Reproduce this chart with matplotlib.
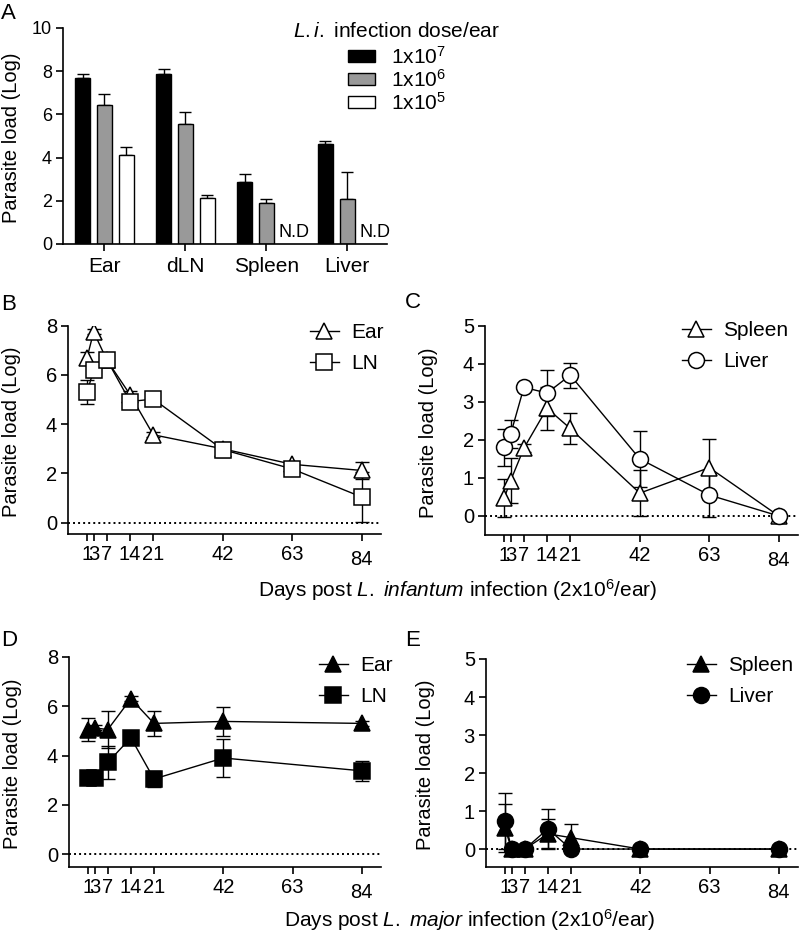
import matplotlib
matplotlib.use("Agg")
import matplotlib.pyplot as plt
import numpy as np
from matplotlib.patches import Patch

plt.rcParams['font.family'] = ['Liberation Sans', 'DejaVu Sans']
plt.rcParams['mathtext.fontset'] = 'custom'
plt.rcParams['mathtext.rm'] = 'Liberation Sans'
plt.rcParams['mathtext.it'] = 'Liberation Sans:italic'

# ---------------- Data ----------------
# Panel A
organs = ["Ear", "dLN", "Spleen", "Liver"]
dose_labels = ["1x10$^{7}$", "1x10$^{6}$", "1x10$^{5}$"]
dose_colors = ["black", "#999999", "white"]
load_1e7 = [7.7, 7.85, 2.88, 4.63]
err_1e7 = [0.17, 0.25, 0.37, 0.12]
load_1e6 = [6.45, 5.56, 1.92, 2.1]
err_1e6 = [0.5, 0.55, 0.17, 1.24]
load_1e5 = [4.13, 2.13, np.nan, np.nan]
err_1e5 = [0.37, 0.12, np.nan, np.nan]

days = [1, 3, 7, 14, 21, 42, 63, 84]
day_ticks = [1, 3, 7, 14, 21, 42, 63, 84]

# Panel B (L. infantum, Ear / LN)
B_ear = [6.7, 7.75, 6.6, 5.2, 3.57, 3.0, 2.37, 2.12]
B_ear_err = [0.25, 0.1, 0.1, 0.15, 0.1, 0.2, 0.1, 0.33]
B_ln = [5.3, 6.2, 6.62, 4.92, 5.02, 2.97, 2.18, 1.04]
B_ln_err = [0.5, 0.28, 0.15, 0.15, 0.1, 0.3, 0.15, 1.0]

# Panel C (L. infantum, Spleen / Liver)
C_spleen = [0.46, 0.93, 1.78, 2.83, 2.3, 0.6, 1.27, 0.0]
C_spleen_err = [0.5, 0.6, 0.1, 0.57, 0.4, 0.6, 0.74, 0.0]
C_liver = [1.8, 2.15, 3.38, 3.23, 3.7, 1.5, 0.55, 0.0]
C_liver_err = [0.48, 0.37, 0.05, 0.6, 0.33, 0.73, 0.58, 0.0]

# Panel D (L. major, Ear / LN)
D_ear = [5.05, 5.12, 5.05, 6.3, 5.3, 5.38, np.nan, 5.3]
D_ear_err = [0.45, 0.1, 0.75, 0.1, 0.5, 0.58, np.nan, 0.1]
D_ln = [3.08, 3.08, 3.72, 4.72, 3.05, 3.9, np.nan, 3.38]
D_ln_err = [0.1, 0.1, 0.65, 0.1, 0.33, 0.75, np.nan, 0.4]

# Panel E (L. major, Spleen / Liver)
E_spleen = [0.55, 0.0, 0.0, 0.4, 0.3, 0.0, np.nan, 0.0]
E_spleen_err = [0.63, 0.0, 0.0, 0.38, 0.36, 0.0, np.nan, 0.0]
E_liver = [0.74, 0.0, 0.0, 0.53, 0.0, 0.0, np.nan, 0.0]
E_liver_err = [0.73, 0.0, 0.0, 0.53, 0.0, 0.0, np.nan, 0.0]

# ---------------- Figure ----------------
W, H = 800, 932
fig = plt.figure(figsize=(W / 100, H / 100), dpi=100)


def ax_px(left, top, right, bottom):
    return fig.add_axes([left / W, 1 - bottom / H, (right - left) / W, (bottom - top) / H])


SP_LW = 1.2
TICK_FS = 14.5
YLAB_FS = 14.5


def style(ax):
    for s in ["top", "right"]:
        ax.spines[s].set_visible(False)
    for s in ["left", "bottom"]:
        ax.spines[s].set_linewidth(SP_LW)
    ax.tick_params(direction="out", length=5, width=SP_LW, labelsize=TICK_FS, pad=3)


# ---- Panel A ----
axA = ax_px(63, 28, 387, 244)
style(axA)
x = np.arange(len(organs))
bw = 0.185
step = 0.27
series = [(load_1e7, err_1e7), (load_1e6, err_1e6), (load_1e5, err_1e5)]
for i, ((vals, errs), col, lab) in enumerate(zip(series, dose_colors, dose_labels)):
    xs = x + (i - 1) * step
    axA.bar(xs, vals, width=bw, color=col, edgecolor="black", linewidth=1.0, label=lab, zorder=2)
    axA.errorbar(xs, vals, yerr=[np.zeros(len(vals)), errs], fmt="none", ecolor="black",
                 elinewidth=1.0, capsize=4.5, capthick=1.0, zorder=1)
for j, v in enumerate(load_1e5):
    if np.isnan(v):
        axA.text(x[j] + step + 0.07, 0.15, "N.D", ha="center", va="bottom", fontsize=13)
axA.set_xlim(-0.512, 3.49)
axA.set_ylim(0, 10)
axA.set_yticks([0, 2, 4, 6, 8, 10])
axA.set_xticks(x)
axA.set_xticklabels(organs)
axA.tick_params(axis="y", labelsize=13)
axA.tick_params(axis="x", labelsize=15, pad=4)
axA.set_ylabel("Parasite load (Log)", fontsize=YLAB_FS)
axA.yaxis.set_label_coords(-0.13, 0.49)
handles = [Patch(facecolor=c, edgecolor="black", linewidth=1.0) for c in dose_colors]
legA = axA.legend(handles, dose_labels, title=r"$\it{L.i.}$ infection dose/ear",
                  loc="upper left", bbox_to_anchor=(283 / W, 1 - 12 / H),
                  bbox_transform=fig.transFigure, frameon=False, fontsize=15,
                  title_fontsize=15, handlelength=1.3, handleheight=0.55,
                  handletextpad=0.8, labelspacing=0.05, borderpad=0)
legA._legend_box.align = "center"
legA._legend_box.sep = 3


def line_panel(rect, s1, e1, s2, e2, m1, m2, filled, labels, ylim, yticks, leg_anchor, ylab_x):
    ax = ax_px(*rect)
    style(ax)
    fc = "black" if filled else "white"
    d = np.array(days, dtype=float)
    for vals, errs, mk in [(s1, e1, m1), (s2, e2, m2)]:
        vals = np.array(vals, dtype=float)
        errs = np.array(errs, dtype=float)
        ok = ~np.isnan(vals)
        ax.errorbar(d[ok], vals[ok], yerr=errs[ok], fmt="none", ecolor="black",
                    elinewidth=1.0, capsize=5, capthick=1.0, zorder=3)
    hs = []
    for vals, mk, lab in [(s1, m1, labels[0]), (s2, m2, labels[1])]:
        vals = np.array(vals, dtype=float)
        ok = ~np.isnan(vals)
        h, = ax.plot(d[ok], vals[ok], color="black", lw=1.0, marker=mk, markersize=11.5,
                     markerfacecolor=fc, markeredgecolor="black", markeredgewidth=1.1,
                     zorder=4, label=lab)
        hs.append(h)
    ax.axhline(0, color="black", lw=1.4, ls=(0, (1, 1.6)), zorder=2)
    ax.set_xlim(-4.75, 89.8)
    ax.set_ylim(*ylim)
    ax.set_yticks(yticks)
    ax.set_xticks(day_ticks)
    ax.set_xticklabels([str(t) for t in day_ticks])
    ax.xaxis.get_major_ticks()[-1].set_pad(6.5)
    ax.spines["left"].set_bounds(ylim[0], yticks[-1])
    ax.set_ylabel("Parasite load (Log)", fontsize=YLAB_FS)
    ax.yaxis.set_label_coords(ylab_x, 0.49)
    ax.legend(hs, labels, loc="upper left", bbox_to_anchor=leg_anchor,
              bbox_transform=fig.transFigure, frameon=False, fontsize=15,
              handlelength=1.35, handletextpad=0.6, labelspacing=0.55, borderpad=0)
    return ax


axB = line_panel((68, 325.7, 381, 534), B_ear, B_ear_err, B_ln, B_ln_err, "^", "s", False,
                 ["Ear", "LN"], (-0.46, 8), [0, 2, 4, 6, 8], (300 / W, 1 - 313 / H), -0.15)
axC = line_panel((485, 325.7, 798, 535), C_spleen, C_spleen_err, C_liver, C_liver_err, "^", "o", False,
                 ["Spleen", "Liver"], (-0.5, 5), [0, 1, 2, 3, 4, 5], (672 / W, 1 - 311 / H), -0.15)
axD = line_panel((69, 656.7, 381, 866.7), D_ear, D_ear_err, D_ln, D_ln_err, "^", "s", True,
                 ["Ear", "LN"], (-0.5, 8), [0, 2, 4, 6, 8], (309 / W, 1 - 646 / H), -0.15)
axE = line_panel((486, 659, 798, 867.3), E_spleen, E_spleen_err, E_liver, E_liver_err, "^", "o", True,
                 ["Spleen", "Liver"], (-0.48, 5), [0, 1, 2, 3, 4, 5], (677 / W, 1 - 646 / H), -0.165)

fig.text(458 / W, 1 - 590 / H, r"Days post $\it{L.}$ $\it{infantum}$ infection (2x10$^{6}$/ear)",
         ha="center", va="center", fontsize=15)
fig.text(470 / W, 1 - 920 / H, r"Days post $\it{L.}$ $\it{major}$ infection (2x10$^{6}$/ear)",
         ha="center", va="center", fontsize=15)

for lab, px, py in [("A", 1, 3), ("B", 1, 294), ("C", 405, 292), ("D", 1, 630), ("E", 405, 630)]:
    fig.text(px / W, 1 - py / H, lab, ha="left", va="top", fontsize=16)

fig.savefig("out.png", dpi=100)
